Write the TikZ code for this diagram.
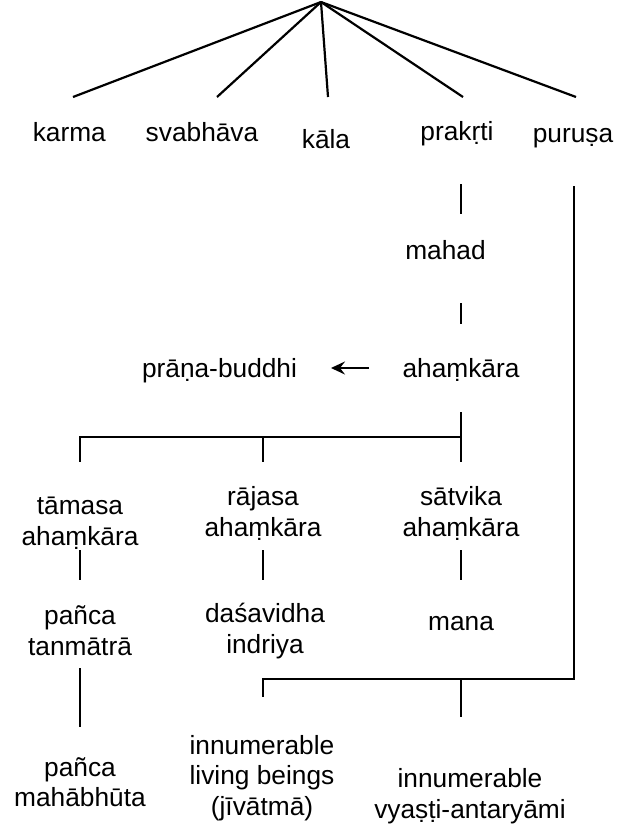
\documentclass[tikz,border=0pt]{standalone}
\usepackage{fontspec}
\setmainfont{Liberation Sans}
\usetikzlibrary{arrows.meta}
\begin{document}
\begin{tikzpicture}[x=1pt,y=-1pt,
  lbl/.style={inner sep=0pt, anchor=base, align=center,
    font=\fontsize{26.3}{30.5}\selectfont},
  wire/.style={line width=2.2pt, line cap=butt},
  flow/.style={line width=2.2pt, -{Stealth[length=14pt,width=13pt,inset=5pt]}}]
\useasboundingbox (0,0) rectangle (635,828);

% first level: five causes
\node[lbl] (karma)    at (69.3,141.7) {karma};
\node[lbl] (svabhava) at (202,141.7)  {svabhāva};
\node[lbl] (kala)     at (326,148.3)  {kāla};
\node[lbl] (prakrti)  at (457,140)    {prakṛti};
\node[lbl] (purusa)   at (573,142)    {puruṣa};

% evolution of prakrti
\node[lbl] (mahad)    at (445.5,259)  {mahad};
\node[lbl] (ahamkara) at (461,377)    {ahaṃkāra};
\node[lbl] (prana)    at (219.5,377)  {prāṇa-buddhi};

% three kinds of ahamkara (anchor is the baseline of the last line)
\node[lbl] (tamasa)   at (80,545)   {tāmasa\\ahaṃkāra};
\node[lbl] (rajasa)   at (263,536)  {rājasa\\ahaṃkāra};
\node[lbl] (satvika)  at (461,536)  {sātvika\\ahaṃkāra};

\node[lbl] (tanmatra) at (80,655)   {pañca\\tanmātrā};
\node[lbl] (indriya)  at (265,653)  {daśavidha\\indriya};
\node[lbl] (mana)     at (461,630)  {mana};

\node[lbl] (bhuta)    at (80,806.7) {pañca\\mahābhūta};
\node[lbl] (jiva)     at (262,815)  {innumerable\\living beings\\(jīvātmā)};
\node[lbl] (vyasti)   at (470,818)  {innumerable\\vyaṣṭi-antaryāmi};

% fan from the top
\coordinate (apex) at (321,2);
\coordinate (fk) at (73,97);
\coordinate (fs) at (217,97);
\coordinate (fl) at (328,97);
\coordinate (fp) at (463,97);
\coordinate (fu) at (576,97);
\foreach \e in {fk,fs,fl,fp,fu} \draw[wire] (apex) -- (\e);

% vertical chain under prakrti
\coordinate (p1) at (461,184);
\coordinate (p2) at (461,214);
\coordinate (p3) at (461,303);
\coordinate (p4) at (461,324);
\coordinate (p5) at (461,412);
\draw[wire] (p1) -- (p2);
\draw[wire] (p3) -- (p4);

% arrow to prana-buddhi
\coordinate (a1) at (369,368);
\coordinate (a2) at (331,368);
\draw[flow] (a1) -- (a2);

% branching into three
\coordinate (b0) at (461,436.7);
\coordinate (bt) at (80,436.7);
\coordinate (br) at (263,436.7);
\coordinate (dt) at (80,461.7);
\coordinate (dr) at (263,461.7);
\coordinate (ds) at (461,461.7);
\draw[wire] (dt) -- (bt) -- (b0);
\draw[wire] (br) -- (dr);
\draw[wire] (p5) -- (ds);

% drops to the next level
\foreach \x in {80,263,461} \draw[wire] (\x,550) -- (\x,580);
\coordinate (t1) at (80,668);
\coordinate (t2) at (80,727);
\draw[wire] (t1) -- (t2);

% purusa line joining the bracket
\coordinate (u0) at (574,186);
\coordinate (u1) at (574,679);
\coordinate (u2) at (263,679);
\coordinate (u3) at (263,697);
\coordinate (v0) at (461,679);
\coordinate (v1) at (461,717);
\draw[wire] (u0) -- (u1) -- (u2) -- (u3);
\draw[wire] (v0) -- (v1);
\end{tikzpicture}
\end{document}
